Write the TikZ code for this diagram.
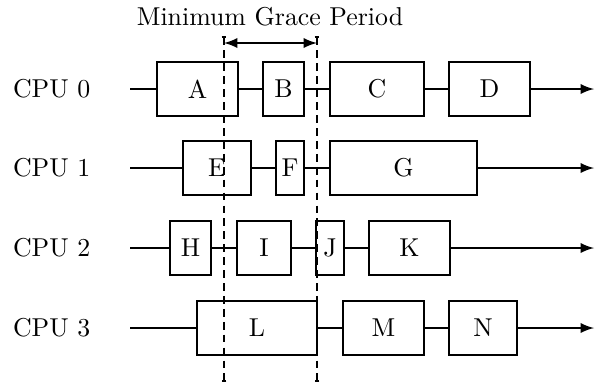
\documentclass[tikz,border=0pt]{standalone}
\usepackage{amsmath}
\usepackage{tikz}
\usetikzlibrary{arrows,arrows.meta}

\begin{document}
\begin{tikzpicture}[x=0.387pt,y=-0.387pt,>=latex,thick,
  blk/.style={draw,inner sep=0pt,minimum height=20.9pt},
  cpu/.style={anchor=west,inner sep=0pt}]
\useasboundingbox (0,0) rectangle (595,385);
% grace period
\node (gp) at (270,17) {Minimum Grace Period};
\coordinate (gpa) at (224,36);
\coordinate (gpb) at (317,36);
\coordinate (gpc) at (224,382);
\coordinate (gpd) at (317,382);
\draw[densely dashed,{Bar[width=1.8pt]}-{Bar[width=1.8pt]}] (gpa) -- (gpc);
\draw[densely dashed,{Bar[width=1.8pt]}-{Bar[width=1.8pt]}] (gpb) -- (gpd);
\draw[<->] (224,43) -- (317,43);
% CPU 0
\node[cpu] (cpu0) at (12,89) {CPU 0};
\coordinate (s0) at (130,89);
\coordinate (e0) at (594,89);
\node[blk,minimum width=31.3pt] (A) at (197.5,89) {A};
\node[blk,minimum width=15.9pt] (B) at (283.5,89) {B};
\node[blk,minimum width=36.4pt] (C) at (377,89) {C};
\node[blk,minimum width=31.3pt] (D) at (489.5,89) {D};
\draw[->] (s0) -- (A) -- (B) -- (C) -- (D) -- (e0);
% CPU 1
\node[cpu] (cpu1) at (12,168) {CPU 1};
\coordinate (s1) at (130,168);
\coordinate (e1) at (594,168);
\node[blk,minimum width=26.3pt] (E) at (217,168) {E};
\node[blk,minimum width=10.8pt] (F) at (290,168) {F};
\node[blk,minimum width=56.9pt] (G) at (403.5,168) {G};
\draw[->] (s1) -- (E) -- (F) -- (G) -- (e1);
% CPU 2
\node[cpu] (cpu2) at (12,248) {CPU 2};
\coordinate (s2) at (130,248);
\coordinate (e2) at (594,248);
\node[blk,minimum width=15.9pt] (H) at (190.5,248) {H};
\node[blk,minimum width=20.9pt] (I) at (264,248) {I};
\node[blk,minimum width=10.8pt] (J) at (330,248) {J};
\node[blk,minimum width=31.3pt] (K) at (409.5,248) {K};
\draw[->] (s2) -- (H) -- (I) -- (J) -- (K) -- (e2);
% CPU 3
\node[cpu] (cpu3) at (12,328) {CPU 3};
\coordinate (s3) at (130,328);
\coordinate (e3) at (594,328);
\node[blk,minimum width=46.4pt] (L) at (257,328) {L};
\node[blk,minimum width=31.3pt] (M) at (383.5,328) {M};
\node[blk,minimum width=26.3pt] (N) at (483,328) {N};
\draw[->] (s3) -- (L) -- (M) -- (N) -- (e3);
\end{tikzpicture}
\end{document}
